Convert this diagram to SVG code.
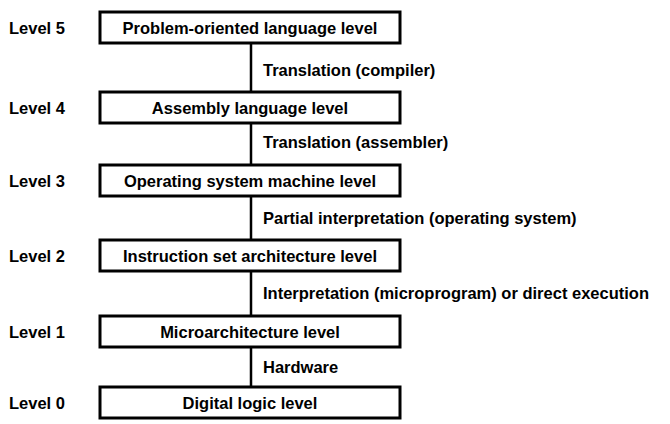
<svg xmlns="http://www.w3.org/2000/svg" width="670" height="424" viewBox="0 0 670 424">
<style>
.box{fill:#fff;stroke:#000;stroke-width:3}
.t{font-family:"Liberation Sans",Arial,sans-serif;font-size:16.5px;font-weight:bold;fill:#000}
.c{text-anchor:middle}
.ln{stroke:#000;stroke-width:2.5;fill:none}
</style>
<rect width="670" height="424" fill="#fff"/>
<g id="connectors">
<line class="ln" x1="251" y1="43" x2="251" y2="387"/>
<text class="t" x="263" y="76">Translation (compiler)</text>
<text class="t" x="263" y="148">Translation (assembler)</text>
<text class="t" x="263" y="224">Partial interpretation (operating system)</text>
<text class="t" x="263" y="299">Interpretation (microprogram) or direct execution</text>
<text class="t" x="263" y="373">Hardware</text>
</g>
<g id="level5">
<text class="t" x="9" y="34">Level 5</text>
<rect class="box" x="100" y="12" width="300" height="31"/>
<text class="t c" x="250" y="34">Problem-oriented language level</text>
</g>
<g id="level4">
<text class="t" x="9" y="114">Level 4</text>
<rect class="box" x="100" y="92" width="300" height="31"/>
<text class="t c" x="250" y="114">Assembly language level</text>
</g>
<g id="level3">
<text class="t" x="9" y="187">Level 3</text>
<rect class="box" x="100" y="165" width="300" height="31"/>
<text class="t c" x="250" y="187">Operating system machine level</text>
</g>
<g id="level2">
<text class="t" x="9" y="262">Level 2</text>
<rect class="box" x="100" y="240" width="300" height="31"/>
<text class="t c" x="250" y="262">Instruction set architecture level</text>
</g>
<g id="level1">
<text class="t" x="9" y="338">Level 1</text>
<rect class="box" x="100" y="316" width="300" height="31"/>
<text class="t c" x="250" y="338">Microarchitecture level</text>
</g>
<g id="level0">
<text class="t" x="9" y="409">Level 0</text>
<rect class="box" x="100" y="387" width="300" height="31"/>
<text class="t c" x="250" y="409">Digital logic level</text>
</g>
</svg>
